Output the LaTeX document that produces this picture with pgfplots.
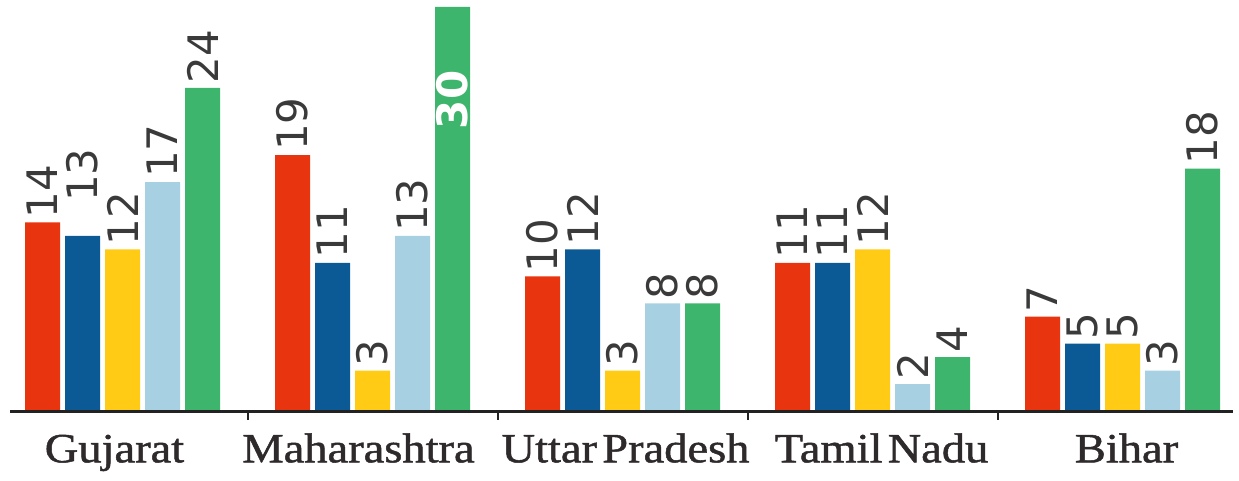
\documentclass[border=0pt]{standalone}
\usepackage{pgfplots}
\pgfplotsset{compat=1.18}
\usepackage{fontspec}
\setmainfont{Liberation Serif}
\newfontfamily\catfont[FakeStretch=1.12, FakeBold=1.2, WordSpace=0.45]{Liberation Serif}
\newfontfamily\lblfont{DejaVu Sans}
\definecolor{cRed}{HTML}{E8340F}
\definecolor{cBlue}{HTML}{0B5A96}
\definecolor{cYellow}{HTML}{FFCB14}
\definecolor{cLight}{HTML}{A7D0E2}
\definecolor{cGreen}{HTML}{3EB56C}
\definecolor{axisgray}{HTML}{222222}
\definecolor{labgray}{HTML}{2E2A2B}
\definecolor{numgray}{HTML}{3A3A3A}
\begin{document}
\begin{tikzpicture}
\begin{axis}[
  scale only axis, width=1222.5pt, height=404pt,
  xmin=-0.45, xmax=4.44, ymin=0, ymax=30,
  axis y line=none,
  axis x line*=bottom,
  axis line style={-, line width=3pt, color=axisgray},
  axis on top,
  xtick={0,1,2,3,4},
  xticklabels={{Gujarat\hspace*{16pt}}, {Maharashtra\hspace*{28pt}}, {\hspace*{6pt}Uttar Pradesh}, {\hspace*{18pt}Tamil Nadu}, {\hspace*{8pt}Bihar}},
  major tick style={draw=none},
  minor xtick={0.5,1.5,2.5,3.5},
  minor tick length=9pt,
  tick align=inside,
  minor tick style={line width=2pt, color=axisgray},
  xticklabel style={font=\catfont\fontsize{41.5}{44}\selectfont, text=labgray, anchor=base, yshift=-47pt, inner sep=0pt},
  ybar=5pt, bar width=35pt,
  nodes near coords, point meta=explicit symbolic,
  every node near coord/.append style={rotate=90, anchor=west, inner xsep=4pt, inner ysep=0pt,
     font=\lblfont\fontsize{42}{42}\selectfont, text=numgray},
  clip=false,
]
\addplot[fill=cRed, draw=none] coordinates {(0,14)[14] (1,19)[19] (2,10)[10] (3,11)[11] (4,7)[7]};
\addplot[fill=cBlue, draw=none] coordinates {(0,13)[\hspace*{30pt}13] (1,11)[11] (2,12)[12] (3,11)[11] (4,5)[5]};
\addplot[fill=cYellow, draw=none] coordinates {(0,12)[12] (1,3)[3] (2,3)[3] (3,12)[12] (4,5)[5]};
\addplot[fill=cLight, draw=none] coordinates {(0,17)[17] (1,13)[13] (2,8)[8] (3,2)[2] (4,3)[3]};
\addplot[fill=cGreen, draw=none] coordinates {(0,24)[24] (1,30)[\hspace*{-187pt}\textcolor{white}{\bfseries 30}] (2,8)[8] (3,4)[4] (4,18)[18]};
\coordinate (bl) at (rel axis cs:0,0);
\end{axis}
\pgfresetboundingbox
\path[use as bounding box] ([xshift=-10pt,yshift=-69pt]bl) rectangle ++(1239pt,480pt);
\end{tikzpicture}
\end{document}
